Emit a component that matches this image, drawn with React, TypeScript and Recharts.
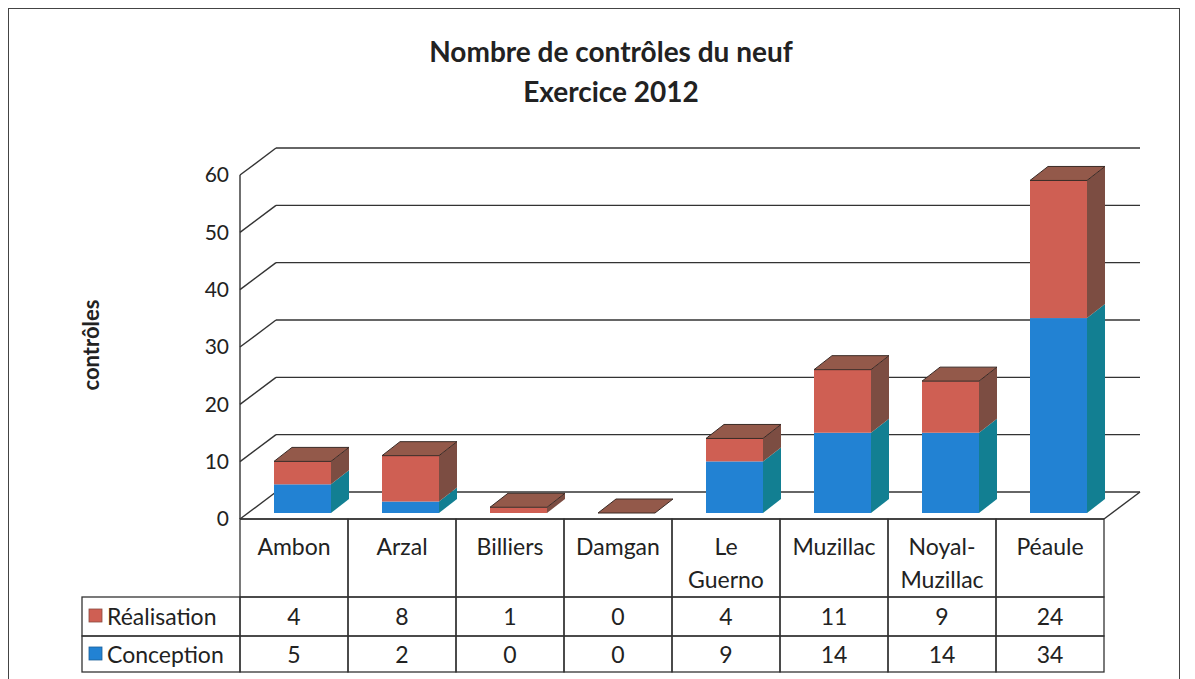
import React from "react";
import { BarChart, Bar, XAxis, YAxis, CartesianGrid } from "recharts";

const categories = ["Ambon", "Arzal", "Billiers", "Damgan", "Le Guerno", "Muzillac", "Noyal-Muzillac", "Péaule"];
const tickLabels = [["Ambon"], ["Arzal"], ["Billiers"], ["Damgan"], ["Le", "Guerno"], ["Muzillac"], ["Noyal-", "Muzillac"], ["Péaule"]];
const realisation = [4, 8, 1, 0, 4, 11, 9, 24];
const conception = [5, 2, 0, 0, 9, 14, 14, 34];
const yTicks = [0, 10, 20, 30, 40, 50, 60];

const data = categories.map((c, i) => ({
  name: c,
  conception: conception[i],
  realisation: realisation[i],
}));

const W = 1172;
const H = 680;
const MARGIN = { top: 167, right: 76, left: 0, bottom: 14 };
const Y_AXIS_W = 232;
const X_AXIS_H = 155;
const PLOT_BOTTOM = H - MARGIN.bottom - X_AXIS_H;
const BAND = (W - MARGIN.right - Y_AXIS_W) / categories.length;

// depth of the back wall and of the boxes
const WALL_DX = 36;
const WALL_DY = 27;
const BOX_OX = 8;
const BOX_OY = -6;
const BOX_DX = 18;
const BOX_DY = 14;

const FONT = "Lato, 'Open Sans', sans-serif";
const LINE = "#333";

const RED = { front: "#cf5f53", side: "#7c4d42", top: "#93594a" };
const BLUE = { front: "#2282d3", side: "#127f92", top: "#1d6fa8" };

function makeBox(col: typeof RED, withTop: boolean) {
  return (props: any) => {
    const { x, y, width, height } = props;
    const fx = x + BOX_OX;
    const fy = y + BOX_OY;
    const h = Math.max(height, 0);
    return (
      <g>
        {h > 0 && <rect x={fx} y={fy} width={width} height={h} fill={col.front} />}
        {h > 0 && (
          <polygon
            points={`${fx + width},${fy} ${fx + width + BOX_DX},${fy - BOX_DY} ${fx + width + BOX_DX},${fy + h - BOX_DY} ${fx + width},${fy + h}`}
            fill={col.side}
          />
        )}
        {withTop && (
          <polygon
            points={`${fx},${fy} ${fx + BOX_DX},${fy - BOX_DY} ${fx + width + BOX_DX},${fy - BOX_DY} ${fx + width},${fy}`}
            fill={col.top}
            stroke="#3a2a25"
            strokeWidth={1}
          />
        )}
      </g>
    );
  };
}

const gridLine = (p: any) => {
  const { x1, y1, x2, index } = p;
  const bottom = Math.abs(y1 - PLOT_BOTTOM) < 1;
  return (
    <g key={`gl-${index}`}>
      <line x1={x1} y1={y1} x2={x1 + WALL_DX} y2={y1 - WALL_DY} stroke={LINE} strokeWidth={1.4} />
      <line x1={x1 + WALL_DX} y1={y1 - WALL_DY} x2={x2 + WALL_DX} y2={y1 - WALL_DY} stroke={LINE} strokeWidth={1.4} />
      {bottom && <line x1={x2} y1={y1} x2={x2 + WALL_DX} y2={y1 - WALL_DY} stroke={LINE} strokeWidth={1.4} />}
    </g>
  );
};

const TableTick = (props: any) => {
  const { x, y, payload } = props;
  const i = payload.index;
  const left = x - BAND / 2;
  const lines = tickLabels[i];
  const txt = { fontFamily: FONT, fontSize: 23, fill: "#222", textAnchor: "middle" as const };
  return (
    <g>
      <rect x={left} y={y} width={BAND} height={78} fill="none" stroke={LINE} strokeWidth={1.3} />
      <rect x={left} y={y + 78} width={BAND} height={39} fill="none" stroke={LINE} strokeWidth={1.3} />
      <rect x={left} y={y + 117} width={BAND} height={36} fill="none" stroke={LINE} strokeWidth={1.3} />
      {lines.map((l, k) => (
        <text key={k} x={x} y={y + 36 + k * 33} {...txt}>
          {l}
        </text>
      ))}
      <text x={x} y={y + 106} {...txt}>{realisation[i]}</text>
      <text x={x} y={y + 144} {...txt}>{conception[i]}</text>
      {i === 0 && (
        <g>
          <rect x={left - 158} y={y + 78} width={158} height={39} fill="none" stroke={LINE} strokeWidth={1.3} />
          <rect x={left - 158} y={y + 117} width={158} height={36} fill="none" stroke={LINE} strokeWidth={1.3} />
          <rect x={left - 151} y={y + 90} width={13} height={13} fill={RED.front} stroke="#8a4a40" strokeWidth={0.8} />
          <rect x={left - 151} y={y + 128} width={13} height={13} fill={BLUE.front} stroke="#1a5f99" strokeWidth={0.8} />
          <text x={left - 133} y={y + 106} {...txt} textAnchor="start">Réalisation</text>
          <text x={left - 133} y={y + 144} {...txt} textAnchor="start">Conception</text>
        </g>
      )}
    </g>
  );
};

export default function App() {
  return (
    <div
      style={{
        position: "relative",
        width: W,
        height: H,
        boxSizing: "border-box",
        border: "1.5px solid #444",
        background: "#fff",
        fontFamily: FONT,
      }}
    >
      <div
        style={{
          position: "absolute",
          left: 16,
          top: 22,
          width: W,
          textAlign: "center",
          fontWeight: 700,
          fontSize: 28,
          lineHeight: "40px",
          color: "#222",
        }}
      >
        <div>Nombre de contrôles du neuf</div>
        <div>Exercice 2012</div>
      </div>
      <div
        style={{
          position: "absolute",
          left: 81,
          top: 336,
          transform: "translate(-50%, -50%) rotate(-90deg)",
          fontWeight: 700,
          fontSize: 22,
          color: "#222",
          whiteSpace: "nowrap",
        }}
      >
        contrôles
      </div>
      <div style={{ position: "absolute", left: -1.5, top: -1.5 }}>
        <BarChart width={W} height={H} data={data} margin={MARGIN} barSize={57}>
          <CartesianGrid horizontal={gridLine} vertical={false} />
          <XAxis
            dataKey="name"
            height={X_AXIS_H}
            interval={0}
            tickLine={false}
            tickSize={0}
            tickMargin={0}
            axisLine={{ stroke: LINE, strokeWidth: 1.4 }}
            tick={<TableTick />}
          />
          <YAxis
            width={Y_AXIS_W}
            domain={[0, 60]}
            ticks={yTicks}
            tickLine={false}
            tickSize={0}
            tickMargin={11}
            axisLine={{ stroke: LINE, strokeWidth: 1.4 }}
            tick={{ fontFamily: FONT, fontSize: 21, fill: "#222" }}
          />
          <Bar dataKey="conception" stackId="a" isAnimationActive={false} shape={makeBox(BLUE, false)} />
          <Bar dataKey="realisation" stackId="a" isAnimationActive={false} shape={makeBox(RED, true)} />
        </BarChart>
      </div>
    </div>
  );
}
